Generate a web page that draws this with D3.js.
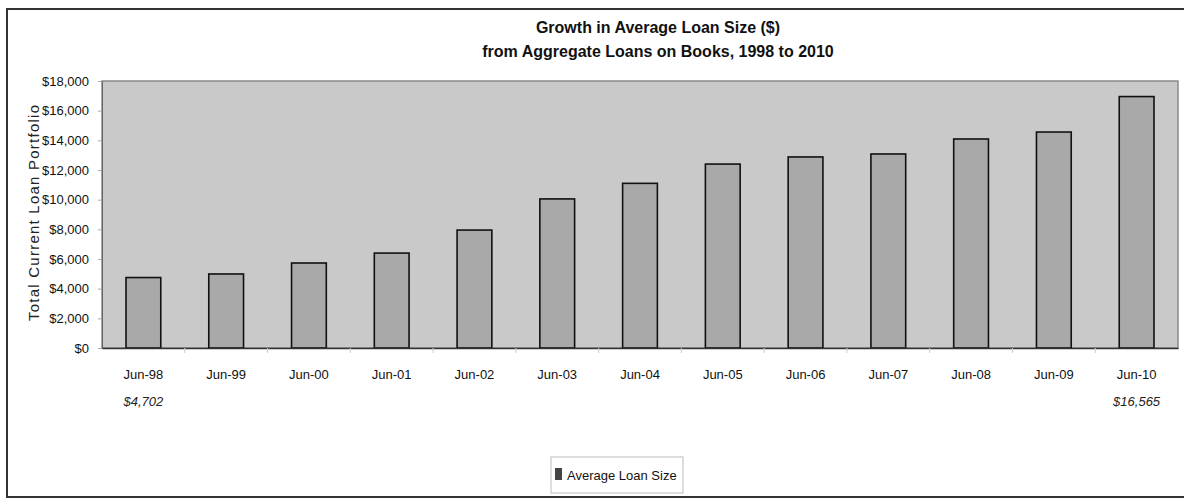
<!DOCTYPE html>
<html>
<head>
  <meta charset="UTF-8">
  <style>
    body { margin: 0; background: #fff; }
    svg { display: block; }
    .narrow { font-family: "Liberation Sans Narrow", "Arial Narrow", "Liberation Sans", sans-serif; }
  </style>
</head>
<body>
<svg></svg>
<script src="https://d3js.org/d3.v7.min.js"></script>
<script>

let width = 1184, height = 500;

// data
const categories = ["Jun-98", "Jun-99", "Jun-00", "Jun-01", "Jun-02", "Jun-03", "Jun-04",
                    "Jun-05", "Jun-06", "Jun-07", "Jun-08", "Jun-09", "Jun-10"];
const loanSize = [4750, 4990, 5730, 6400, 7950, 10050, 11100, 12400, 12880, 13080, 14090, 14560, 16950];
const yTicks = [0, 2000, 4000, 6000, 8000, 10000, 12000, 14000, 16000, 18000];
const notes = [{ cat: "Jun-98", text: "$4,702" }, { cat: "Jun-10", text: "$16,565" }];
const titleLines = ["Growth in Average Loan Size ($)", "from Aggregate Loans on Books, 1998 to 2010"];
const seriesName = "Average Loan Size";

let svg = d3.select("svg")
    .attr("width", width)
    .attr("height", height);

let margin = { top: 81, right: 6, bottom: 152, left: 102 };
let plotW = width - margin.left - margin.right,
    plotH = height - margin.top - margin.bottom;

// outer frame
svg.append("rect")
    .attr("x", 7).attr("y", 9)
    .attr("width", width + 10).attr("height", 488)
    .attr("fill", "#fff")
    .attr("stroke", "#333")
    .attr("stroke-width", 2);

// title
svg.selectAll("text.title")
    .data(titleLines)
    .enter().append("text")
    .attr("class", "title narrow")
    .attr("x", 658)
    .attr("y", (d, i) => 33 + i * 24)
    .attr("text-anchor", "middle")
    .style("font-size", "16px")
    .style("font-weight", "bold")
    .attr("fill", "#111")
    .text(d => d);

let g = svg.append("g").attr("transform", `translate(${margin.left},${margin.top})`);

let x = d3.scaleBand().domain(categories).range([0, plotW]).paddingInner(0.58).paddingOuter(0.29);
let y = d3.scaleLinear().domain([0, 18000]).range([plotH, 0]);

// plot background
g.append("rect")
    .attr("width", plotW).attr("height", plotH)
    .attr("fill", "#c9c9c9")
    .attr("stroke", "#8a8a8a")
    .attr("stroke-width", 1.5);

// bars
g.selectAll("rect.bar")
    .data(loanSize)
    .enter().append("rect")
    .attr("class", "bar")
    .attr("x", (d, i) => x(categories[i]))
    .attr("y", d => y(d))
    .attr("width", x.bandwidth())
    .attr("height", d => plotH - y(d))
    .attr("fill", "#a9a9a9")
    .attr("stroke", "#111")
    .attr("stroke-width", 1.6);

// y axis
let yAxis = g.append("g")
    .attr("class", "narrow")
    .call(d3.axisLeft(y).tickValues(yTicks).tickSize(4).tickPadding(9)
        .tickFormat(d => "$" + d3.format(",")(d)));
yAxis.select(".domain").attr("stroke", "#666");
yAxis.selectAll(".tick line").attr("stroke", "#aaa");
yAxis.selectAll("text").style("font-size", "13px").attr("fill", "#111");

// x axis
let xAxis = g.append("g")
    .attr("class", "narrow")
    .attr("transform", `translate(0,${plotH})`)
    .call(d3.axisBottom(x).tickSize(0).tickPadding(22));
xAxis.select(".domain").attr("stroke", "#333").attr("stroke-width", 1.5);
xAxis.selectAll("text").style("font-size", "13px").attr("fill", "#111");

// small category separators under the axis
g.selectAll("line.sep")
    .data(categories.slice(1))
    .enter().append("line")
    .attr("class", "sep")
    .attr("x1", d => x(d) - x.step() * x.paddingInner() / 2)
    .attr("x2", d => x(d) - x.step() * x.paddingInner() / 2)
    .attr("y1", plotH).attr("y2", plotH + 5)
    .attr("stroke", "#ccc");

// value notes under first and last category
g.selectAll("text.note")
    .data(notes)
    .enter().append("text")
    .attr("class", "note narrow")
    .attr("x", d => x(d.cat) + x.bandwidth() / 2)
    .attr("y", plotH + 58)
    .attr("text-anchor", "middle")
    .style("font-size", "13px")
    .style("font-style", "italic")
    .attr("fill", "#222")
    .text(d => d.text);

// y axis title
svg.append("text")
    .attr("transform", "translate(39,213) rotate(-90)")
    .attr("text-anchor", "middle")
    .attr("textLength", 216)
    .attr("lengthAdjust", "spacing")
    .style("font-family", "Liberation Sans, Arial, sans-serif")
    .style("font-size", "15px")
    .attr("fill", "#222")
    .text("Total Current Loan Portfolio");

// legend
let legend = svg.append("g").attr("transform", "translate(551,457)");
legend.append("rect")
    .attr("width", 132).attr("height", 36)
    .attr("fill", "#fff")
    .attr("stroke", "#bbb");
legend.append("rect")
    .attr("x", 4).attr("y", 11)
    .attr("width", 7).attr("height", 12)
    .attr("fill", "#444");
legend.append("text")
    .attr("class", "narrow")
    .attr("x", 16).attr("y", 23)
    .style("font-size", "13px")
    .attr("fill", "#111")
    .text(seriesName);

</script>
</body>
</html>
